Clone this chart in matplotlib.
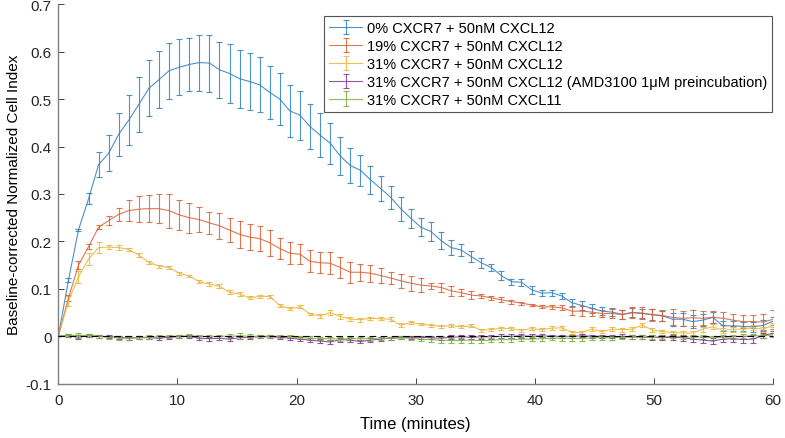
import numpy as np
import matplotlib
matplotlib.use("Agg")
import matplotlib.pyplot as plt

plt.rcParams['font.family'] = ['Liberation Sans', 'DejaVu Sans']
plt.rcParams['axes.unicode_minus'] = False

time_min = [0, 0.85, 1.69, 2.54, 3.38, 4.23, 5.07, 5.92, 6.76, 7.61, 8.45, 9.30, 10.14, 10.99,
            11.83, 12.68, 13.52, 14.37, 15.21, 16.06, 16.90, 17.75, 18.59, 19.44, 20.28, 21.13,
            21.97, 22.82, 23.66, 24.51, 25.35, 26.20, 27.04, 27.89, 28.73, 29.58, 30.42, 31.27,
            32.11, 32.96, 33.80, 34.65, 35.49, 36.34, 37.18, 38.03, 38.87, 39.72, 40.56, 41.41,
            42.25, 43.10, 43.94, 44.79, 45.63, 46.48, 47.32, 48.17, 49.01, 49.86, 50.70, 51.55,
            52.39, 53.24, 54.08, 54.93, 55.77, 56.62, 57.46, 58.31, 59.15, 60.00]

labels = ["0% CXCR7 + 50nM CXCL12",
          "19% CXCR7 + 50nM CXCL12",
          "31% CXCR7 + 50nM CXCL12",
          "31% CXCR7 + 50nM CXCL12 (AMD3100 1\u03bcM preincubation)",
          "31% CXCR7 + 50nM CXCL11"]

blue = [0, 0.118, 0.224, 0.290, 0.362, 0.386, 0.426, 0.456, 0.489, 0.523, 0.541, 0.560, 0.567,
        0.573, 0.577, 0.576, 0.562, 0.554, 0.543, 0.537, 0.530, 0.514, 0.500, 0.475, 0.466,
        0.442, 0.424, 0.407, 0.380, 0.360, 0.350, 0.330, 0.312, 0.293, 0.269, 0.249, 0.230,
        0.221, 0.202, 0.187, 0.182, 0.168, 0.155, 0.145, 0.128, 0.115, 0.114, 0.098, 0.091,
        0.092, 0.085, 0.071, 0.065, 0.059, 0.053, 0.051, 0.046, 0.050, 0.048, 0.046, 0.043,
        0.036, 0.036, 0.031, 0.034, 0.040, 0.022, 0.022, 0.021, 0.020, 0.023, 0.032]
blue_err = [0, 0.004, 0.003, 0.012, 0.027, 0.038, 0.045, 0.053, 0.058, 0.059, 0.060, 0.059,
            0.059, 0.056, 0.059, 0.060, 0.059, 0.062, 0.061, 0.060, 0.058, 0.056, 0.054, 0.054,
            0.052, 0.047, 0.046, 0.043, 0.040, 0.036, 0.033, 0.029, 0.026, 0.024, 0.025, 0.020,
            0.019, 0.020, 0.018, 0.015, 0.012, 0.012, 0.010, 0.007, 0.009, 0.006, 0.007, 0.008,
            0.006, 0.006, 0.007, 0.008, 0.010, 0.009, 0.009, 0.008, 0.009, 0.009, 0.009, 0.011,
            0.011, 0.014, 0.014, 0.013, 0.012, 0.012, 0.010, 0.010, 0.010, 0.011, 0.011, 0.008]

red = [0, 0.081, 0.150, 0.189, 0.230, 0.244, 0.257, 0.265, 0.268, 0.269, 0.269, 0.265, 0.256,
       0.250, 0.246, 0.239, 0.233, 0.224, 0.215, 0.209, 0.206, 0.197, 0.185, 0.175, 0.173,
       0.158, 0.155, 0.154, 0.145, 0.135, 0.135, 0.133, 0.128, 0.123, 0.117, 0.112, 0.108,
       0.106, 0.103, 0.096, 0.092, 0.087, 0.085, 0.081, 0.077, 0.073, 0.070, 0.066, 0.062,
       0.062, 0.060, 0.053, 0.053, 0.051, 0.048, 0.048, 0.046, 0.050, 0.049, 0.045, 0.044,
       0.040, 0.038, 0.039, 0.038, 0.040, 0.038, 0.034, 0.031, 0.031, 0.030, 0.036]
red_err = [0, 0.007, 0.008, 0.005, 0.004, 0.010, 0.014, 0.023, 0.027, 0.029, 0.030, 0.036,
           0.031, 0.032, 0.027, 0.024, 0.027, 0.026, 0.028, 0.027, 0.026, 0.027, 0.023, 0.023,
           0.021, 0.023, 0.022, 0.023, 0.022, 0.022, 0.018, 0.018, 0.015, 0.013, 0.015, 0.016,
           0.015, 0.007, 0.009, 0.011, 0.007, 0.008, 0.005, 0.004, 0.005, 0.004, 0.003, 0.003,
           0.003, 0.004, 0.005, 0.009, 0.010, 0.009, 0.008, 0.009, 0.009, 0.011, 0.013, 0.012,
           0.012, 0.017, 0.016, 0.017, 0.015, 0.013, 0.014, 0.013, 0.014, 0.014, 0.016, 0.020]

yellow = [0, 0.075, 0.125, 0.163, 0.187, 0.188, 0.187, 0.183, 0.171, 0.156, 0.148, 0.145, 0.133,
          0.127, 0.115, 0.110, 0.106, 0.093, 0.089, 0.081, 0.084, 0.084, 0.065, 0.058, 0.062,
          0.047, 0.043, 0.050, 0.042, 0.036, 0.035, 0.038, 0.037, 0.036, 0.023, 0.029, 0.026,
          0.023, 0.021, 0.022, 0.020, 0.022, 0.013, 0.014, 0.017, 0.016, 0.013, 0.016, 0.014,
          0.017, 0.018, 0.008, 0.008, 0.015, 0.010, 0.015, 0.014, 0.015, 0.024, 0.013, 0.010,
          0.008, 0.007, 0.007, 0.015, 0.020, 0.012, 0.015, 0.015, 0.018, 0.015, 0.024]
yellow_err = [0, 0.011, 0.013, 0.013, 0.011, 0.005, 0.005, 0.004, 0.004, 0.003, 0.003, 0.003,
              0.003, 0.003, 0.003, 0.005, 0.005, 0.004, 0.004, 0.003, 0.004, 0.004, 0.003, 0.003,
              0.003, 0.003, 0.004, 0.005, 0.005, 0.004, 0.004, 0.003, 0.003, 0.004, 0.004, 0.004,
              0.003, 0.003, 0.003, 0.003, 0.003, 0.003, 0.003, 0.003, 0.003, 0.003, 0.003, 0.003,
              0.003, 0.004, 0.004, 0.004, 0.004, 0.004, 0.003, 0.004, 0.004, 0.004, 0.005, 0.004,
              0.004, 0.004, 0.005, 0.005, 0.005, 0.005, 0.005, 0.005, 0.005, 0.005, 0.005, 0.005]

purple = [0, 0.001, -0.002, 0.001, 0.000, -0.001, -0.002, -0.004, -0.003, -0.003, -0.004, -0.002,
          -0.001, 0.000, -0.004, -0.005, -0.004, -0.006, -0.003, -0.002, -0.001, -0.001, -0.002,
          -0.004, -0.006, -0.008, -0.010, -0.012, -0.007, -0.008, -0.011, -0.008, -0.006, -0.004,
          -0.003, -0.002, -0.002, -0.003, -0.004, -0.002, -0.001, -0.002, -0.001, -0.001, 0.000,
          0.000, 0.001, 0.000, 0.001, 0.000, 0.000, 0.000, 0.001, 0.000, 0.000, -0.001, 0.000,
          -0.001, -0.002, -0.002, -0.003, -0.002, -0.003, -0.006, -0.008, -0.010, -0.006, -0.005,
          -0.007, -0.006, 0.002, 0.006]
purple_err = [0, 0.003, 0.004, 0.003, 0.003, 0.003, 0.003, 0.004, 0.003, 0.003, 0.004, 0.003,
              0.003, 0.003, 0.004, 0.004, 0.004, 0.004, 0.003, 0.003, 0.003, 0.003, 0.003, 0.004,
              0.004, 0.004, 0.004, 0.004, 0.004, 0.004, 0.004, 0.004, 0.004, 0.003, 0.003, 0.003,
              0.003, 0.003, 0.004, 0.004, 0.004, 0.004, 0.004, 0.004, 0.004, 0.004, 0.004, 0.004,
              0.003, 0.003, 0.003, 0.003, 0.003, 0.003, 0.003, 0.003, 0.004, 0.004, 0.004, 0.005,
              0.005, 0.005, 0.006, 0.006, 0.007, 0.007, 0.006, 0.006, 0.007, 0.008, 0.006, 0.006]

green = [0, 0.002, 0.002, 0.002, 0.000, -0.002, -0.004, -0.004, -0.002, -0.002, -0.001, 0.000,
         0.000, 0.001, 0.000, -0.001, 0.000, 0.000, 0.001, 0.000, 0.000, 0.000, 0.000, -0.001,
         -0.003, -0.004, -0.005, -0.005, -0.006, -0.005, -0.005, -0.005, -0.004, -0.004, -0.003,
         -0.004, -0.006, -0.007, -0.008, -0.009, -0.009, -0.008, -0.009, -0.008, -0.007, -0.007,
         -0.006, -0.006, -0.005, -0.004, -0.004, -0.004, -0.005, -0.003, -0.003, -0.003, -0.002,
         -0.002, -0.001, -0.002, -0.001, 0.000, -0.001, -0.002, -0.001, -0.003, -0.002, -0.001,
         0.000, 0.001, 0.001, 0.003]
green_err = [0, 0.003, 0.006, 0.003, 0.003, 0.003, 0.004, 0.003, 0.003, 0.004, 0.003, 0.003,
             0.003, 0.003, 0.003, 0.003, 0.003, 0.004, 0.006, 0.004, 0.003, 0.003, 0.003, 0.003,
             0.003, 0.004, 0.003, 0.003, 0.004, 0.003, 0.003, 0.004, 0.003, 0.003, 0.003, 0.003,
             0.004, 0.005, 0.006, 0.006, 0.005, 0.006, 0.005, 0.004, 0.004, 0.004, 0.004, 0.004,
             0.004, 0.004, 0.005, 0.006, 0.005, 0.004, 0.004, 0.004, 0.003, 0.004, 0.004, 0.004,
             0.004, 0.004, 0.004, 0.004, 0.004, 0.004, 0.004, 0.004, 0.004, 0.004, 0.004, 0.004]

colors = ['#2f7fc1', '#d95f33', '#eab43a', '#7e3a8f', '#7aae3c']
series = [(blue, blue_err), (red, red_err), (yellow, yellow_err),
          (purple, purple_err), (green, green_err)]

yticks = [-0.1, 0, 0.1, 0.2, 0.3, 0.4, 0.5, 0.6, 0.7]
ytick_labels = ['-0.1', '0', '0.1', '0.2', '0.3', '0.4', '0.5', '0.6', '0.7']
xticks = [0, 10, 20, 30, 40, 50, 60]

fig = plt.figure(figsize=(7.85, 4.39), dpi=100)
ax = fig.add_axes([0.0743, 0.1236, 0.9107, 0.8645])

for (vals, errs), c, lab in zip(series, colors, labels):
    ax.errorbar(time_min, vals, yerr=errs, color=c, lw=0.8, elinewidth=0.8,
                capsize=2.2, capthick=0.8, label=lab, alpha=0.85)

ax.plot([0, 60], [0, 0], color='black', ls=(0, (6, 4)), lw=0.8, zorder=5)

ax.set_xlim(0, 60)
ax.set_ylim(-0.1, 0.7)
ax.set_xticks(xticks)
ax.set_yticks(yticks)
ax.set_yticklabels(ytick_labels)
ax.tick_params(direction='in', length=4, width=0.6, labelsize=11, colors='#262626')
ax.tick_params(axis='x', pad=7)
ax.tick_params(axis='y', pad=5)
for s in ['top', 'right']:
    ax.spines[s].set_visible(False)
for s in ['left', 'bottom']:
    ax.spines[s].set_color('#808080')
    ax.spines[s].set_linewidth(1.0)

ax.set_xlabel('Time (minutes)', fontsize=12, labelpad=6)
ax.set_ylabel('Baseline-corrected Normalized Cell Index', fontsize=11, labelpad=3)

leg = ax.legend(loc='upper right', bbox_to_anchor=(772 / 785, 1 - 17 / 439),
                bbox_transform=fig.transFigure, borderaxespad=0, fontsize=10.5,
                fancybox=False, framealpha=1, edgecolor='#555555',
                handlelength=2.25, labelspacing=0.27, borderpad=0.35, handletextpad=0.3)
leg.get_frame().set_linewidth(0.8)

fig.savefig('out.png', dpi=100)
